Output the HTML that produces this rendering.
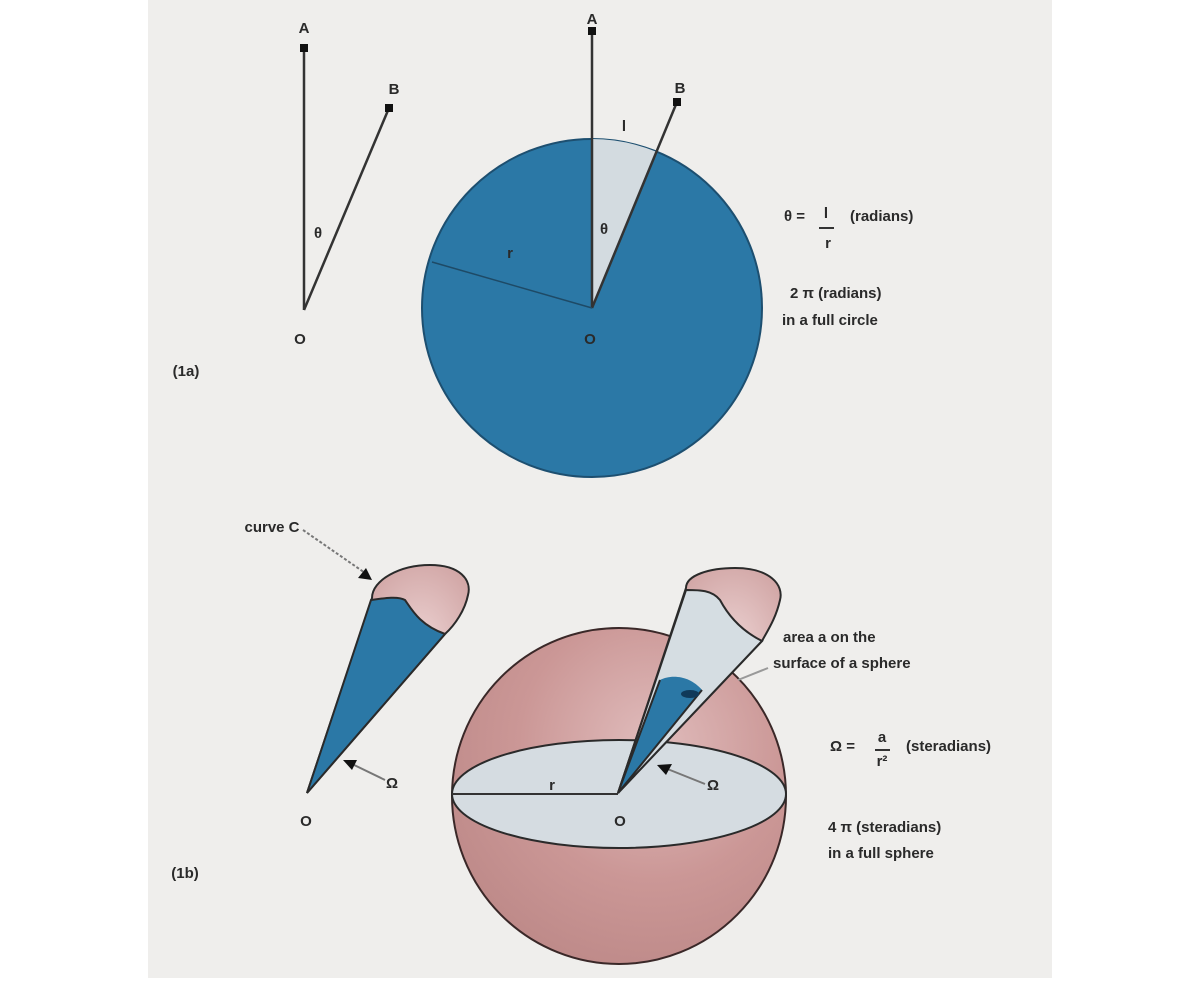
<!DOCTYPE html>
<html><head><meta charset="utf-8"><style>
html,body{margin:0;padding:0;background:#fff;}
svg{display:block;}
text{font-family:"Liberation Sans",sans-serif;font-weight:bold;fill:#2a2a2a;font-size:15px;}
</style></head><body>
<svg width="1200" height="981" viewBox="0 0 1200 981">
<defs>
<radialGradient id="pk" cx="0.6" cy="0.35" r="0.8">
<stop offset="0" stop-color="#e0bcbc"/><stop offset="0.5" stop-color="#cb9796"/><stop offset="1" stop-color="#b98584"/>
</radialGradient>
<radialGradient id="cap" cx="0.7" cy="0.35" r="0.7">
<stop offset="0" stop-color="#ecd2d2"/><stop offset="1" stop-color="#bd8584"/>
</radialGradient>
</defs>
<rect x="148" y="0" width="904" height="978" fill="#efeeec"/>

<!-- 1a left -->
<line x1="304" y1="48" x2="304" y2="310" stroke="#333" stroke-width="2.5"/>
<line x1="304" y1="310" x2="389" y2="108" stroke="#333" stroke-width="2.5"/>
<rect x="300" y="44" width="8" height="8" fill="#111"/>
<rect x="385" y="104" width="8" height="8" fill="#111"/>
<text x="304" y="33" text-anchor="middle">A</text>
<text x="394" y="94" text-anchor="middle">B</text>
<text x="318" y="238" text-anchor="middle">θ</text>
<text x="300" y="344" text-anchor="middle">O</text>
<text x="186" y="376" text-anchor="middle">(1a)</text>

<!-- 1a circle -->
<ellipse cx="592" cy="308" rx="170" ry="169" fill="#2b78a6" stroke="#1d4f70" stroke-width="2"/>
<path d="M592,308 L592,139 A170,169 0 0 1 657,152 Z" fill="#d3dbe0"/>
<line x1="592" y1="308" x2="592" y2="30" stroke="#333" stroke-width="2.5"/>
<line x1="592" y1="308" x2="677" y2="102" stroke="#333" stroke-width="2.5"/>
<line x1="592" y1="308" x2="432" y2="262" stroke="#1e4a66" stroke-width="1.5"/>
<rect x="588" y="27" width="8" height="8" fill="#111"/>
<rect x="673" y="98" width="8" height="8" fill="#111"/>
<text x="592" y="24" text-anchor="middle">A</text>
<text x="680" y="93" text-anchor="middle">B</text>
<text x="624" y="131" text-anchor="middle">l</text>
<text x="604" y="234" text-anchor="middle">θ</text>
<text x="510" y="258" text-anchor="middle">r</text>
<text x="590" y="344" text-anchor="middle">O</text>

<text x="784" y="221">θ =</text>
<text x="826" y="218" text-anchor="middle">l</text>
<line x1="819" y1="228" x2="834" y2="228" stroke="#333" stroke-width="2"/>
<text x="828" y="248" text-anchor="middle">r</text>
<text x="850" y="221">(radians)</text>
<text x="790" y="298">2 π (radians)</text>
<text x="782" y="325">in a full circle</text>

<!-- 1b left cone -->
<path d="M307,793 L372,598 C372,580 400,565 430,565 C460,565 472,580 468,595 C465,610 455,625 445,634 Z" fill="url(#cap)" stroke="#2a2a2a" stroke-width="2"/>
<path d="M307,793 L371,600 C385,598 398,596 405,600 C412,610 420,625 445,634 Z" fill="#2b78a6" stroke="#2a2a2a" stroke-width="2"/>
<line x1="303" y1="530" x2="368" y2="575" stroke="#777" stroke-width="2" stroke-dasharray="3,2"/>
<path d="M372,580 L358,578 L366,568 Z" fill="#111"/>
<text x="272" y="532" text-anchor="middle">curve C</text>
<line x1="385" y1="780" x2="350" y2="763" stroke="#777" stroke-width="2"/>
<path d="M343,760 L357,760 L352,770 Z" fill="#111"/>
<text x="392" y="788" text-anchor="middle">Ω</text>
<text x="306" y="826" text-anchor="middle">O</text>
<text x="185" y="878" text-anchor="middle">(1b)</text>

<!-- sphere -->
<ellipse cx="619" cy="796" rx="167" ry="168" fill="url(#pk)" stroke="#3a2828" stroke-width="2"/>
<ellipse cx="619" cy="794" rx="167" ry="54" fill="#d5dce1" stroke="#2a2a2a" stroke-width="2"/>
<line x1="452" y1="794" x2="618" y2="794" stroke="#333" stroke-width="2"/>
<text x="552" y="790" text-anchor="middle">r</text>
<text x="620" y="826" text-anchor="middle">O</text>
<!-- right cone -->
<path d="M618,793 L686,588 C686,575 710,568 735,568 C770,568 784,585 780,600 C776,618 768,630 762,641 Z" fill="url(#cap)" stroke="#2a2a2a" stroke-width="2"/>
<path d="M618,793 L686,590 C700,590 712,590 720,600 C728,615 740,630 762,641 Z" fill="#d5dde2" stroke="#2a2a2a" stroke-width="2"/>
<path d="M618,793 L660,680 C672,674 690,676 702,690 Z" fill="#2b78a6"/>
<path d="M618,793 L660,680 M702,690 L618,793" stroke="#2a2a2a" stroke-width="2"/>
<ellipse cx="690" cy="694" rx="9" ry="4" fill="#103a5a"/>
<line x1="738" y1="680" x2="768" y2="668" stroke="#999" stroke-width="2"/>
<text x="783" y="642">area a on the</text>
<text x="773" y="668">surface of a sphere</text>
<line x1="705" y1="784" x2="665" y2="768" stroke="#777" stroke-width="2"/>
<path d="M657,765 L672,764 L666,775 Z" fill="#111"/>
<text x="713" y="790" text-anchor="middle">Ω</text>

<text x="830" y="751">Ω =</text>
<text x="882" y="742" text-anchor="middle">a</text>
<line x1="875" y1="750" x2="890" y2="750" stroke="#333" stroke-width="2"/>
<text x="882" y="766" text-anchor="middle">r²</text>
<text x="906" y="751">(steradians)</text>
<text x="828" y="832">4 π (steradians)</text>
<text x="828" y="858">in a full sphere</text>
</svg>
</body></html>
